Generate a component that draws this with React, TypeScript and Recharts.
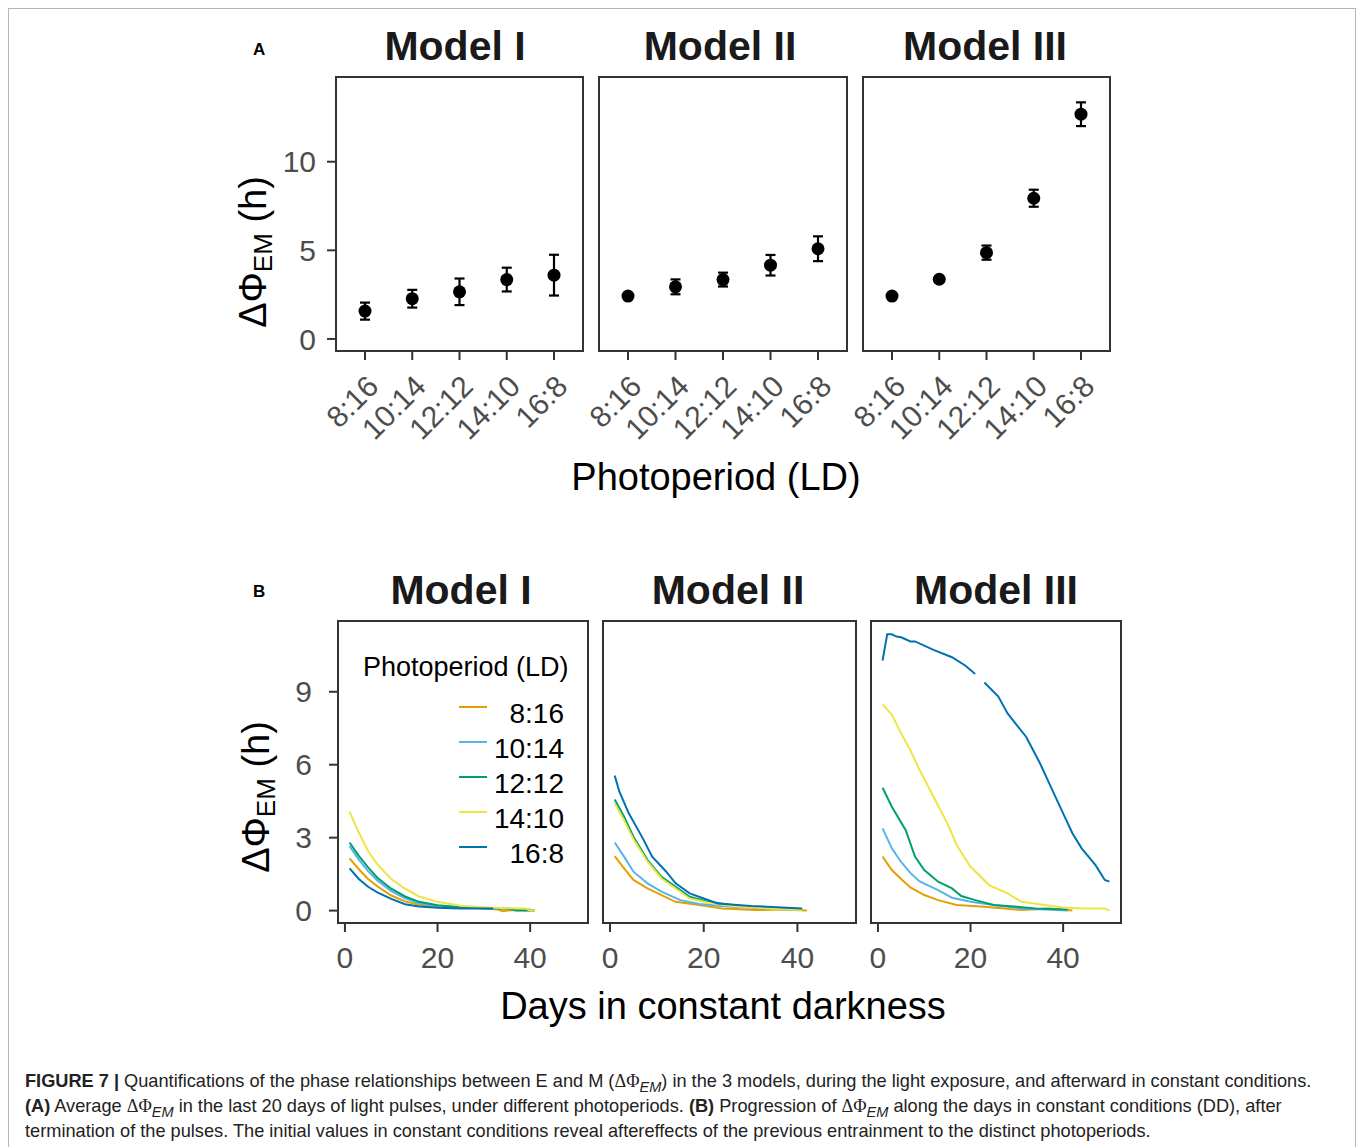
import React from 'react';
import { ComposedChart, Scatter, ErrorBar, LineChart, Line, XAxis, YAxis, Legend } from 'recharts';

const FONT = '"Liberation Sans", Arial, Helvetica, sans-serif';
const TICK_GREY = '#4d4d4d';
const INK = '#333333';

// panel A: mean ΔΦEM in the last 20 days of light pulses (± error)
const photoperiods = ['8:16', '10:14', '12:12', '14:10', '16:8'];
const modelNames = ['Model I', 'Model II', 'Model III'];

const meanModelI = [1.57, 2.27, 2.66, 3.35, 3.6];
const errModelI = [0.48, 0.5, 0.75, 0.67, 1.15];
const meanModelII = [2.42, 2.94, 3.35, 4.16, 5.09];
const errModelII = [0.12, 0.42, 0.39, 0.58, 0.7];
const meanModelIII = [2.42, 3.37, 4.87, 7.94, 12.68];
const errModelIII = [0.12, 0.15, 0.4, 0.48, 0.67];

const aTicks = [0, 5, 10];
const bTicks = [0, 3, 6, 9];
const dayTicks = [0, 20, 40];

// Okabe-Ito colours, one per photoperiod
const lineColors = ['#E69F00', '#56B4E9', '#009E73', '#F0E442', '#0072B2'];

// panel B: [day in DD, ΔΦEM]
const m1_816 = [[1, 2.15], [3, 1.7], [5, 1.3], [7, 1.0], [10, 0.62], [13, 0.38], [16, 0.24], [20, 0.17], [25, 0.13], [30, 0.1], [33, 0.05], [34, -0.03], [36, 0.02], [41, 0]];
const m1_1014 = [[1, 2.65], [3, 2.1], [5, 1.62], [7, 1.24], [10, 0.8], [13, 0.5], [16, 0.3], [20, 0.2], [25, 0.13], [30, 0.1], [35, 0.08], [40, 0.05]];
const m1_1212 = [[1, 2.8], [3, 2.25], [5, 1.78], [7, 1.35], [10, 0.9], [13, 0.58], [16, 0.36], [20, 0.22], [25, 0.14], [30, 0.1], [35, 0.09], [37, 0], [41, 0]];
const m1_1410 = [[1, 4.07], [3, 3.2], [5, 2.45], [7, 1.9], [10, 1.3], [13, 0.9], [16, 0.58], [20, 0.36], [25, 0.2], [30, 0.14], [35, 0.1], [39, 0.09], [40, 0], [41, 0]];
const m1_168 = [[1, 1.74], [3, 1.3], [5, 0.98], [7, 0.75], [10, 0.48], [13, 0.26], [16, 0.17], [20, 0.12], [25, 0.09], [30, 0.09], [32, 0.09]];

const m2_816 = [[1, 2.24], [3, 1.74], [5, 1.26], [8, 0.91], [11, 0.64], [14, 0.36], [19, 0.23], [24, 0.09], [31, 0.02], [37, 0.05], [42, 0]];
const m2_1014 = [[1, 2.8], [3, 2.22], [5, 1.6], [8, 1.12], [11, 0.78], [15, 0.43], [19, 0.27], [26, 0.16], [33, 0.09], [41, 0.02]];
const m2_1212 = [[1, 4.57], [3, 3.86], [5, 3.04], [8, 2.08], [11, 1.39], [14, 0.98], [17, 0.57], [21, 0.36], [26, 0.23], [33, 0.09], [41, 0.05]];
const m2_1410 = [[1, 4.41], [3, 3.72], [5, 2.93], [8, 2.01], [11, 1.32], [14, 0.91], [17, 0.5], [21, 0.32], [26, 0.19], [33, 0.09], [41, 0.02]];
const m2_168 = [[1, 5.55], [2, 4.89], [4, 4.0], [7, 2.97], [9, 2.22], [12, 1.6], [14, 1.12], [17, 0.71], [20, 0.5], [23, 0.29], [30, 0.19], [41, 0.09]];

const m3_816 = [[1, 2.22], [3, 1.67], [5, 1.3], [7, 0.95], [10, 0.64], [13, 0.43], [17, 0.23], [23, 0.16], [31, 0.02], [37, 0.09], [42, 0]];
const m3_1014 = [[1, 3.38], [3, 2.56], [5, 2.0], [7, 1.55], [9, 1.2], [13, 0.84], [16, 0.53], [20, 0.36], [25, 0.23], [31, 0.09], [41, 0]];
const m3_1212 = [[1, 5.05], [3, 4.27], [6, 3.31], [8, 2.22], [10, 1.67], [13, 1.19], [16, 0.91], [18, 0.6], [21, 0.43], [25, 0.23], [30, 0.16], [34, 0.09], [41, 0.05]];
const m3_1410 = [[1, 8.48], [3, 8.05], [5, 7.29], [7, 6.6], [9, 5.78], [12, 4.68], [15, 3.59], [17, 2.7], [20, 1.8], [24, 1.05], [28, 0.71], [31, 0.36], [36, 0.23], [40, 0.13], [44, 0.09], [49, 0.09], [50, 0]];
const m3_168 = [[1, 10.28], [2, 11.36], [3, 11.36], [4, 11.27], [5, 11.24], [7, 11.07], [8, 11.07], [12, 10.72], [16, 10.42], [19, 10.06], [21, 9.73], [22, null], [23, 9.38], [26, 8.8], [28, 8.11], [32, 7.15], [35, 6.06], [37, 5.23], [40, 4.0], [42, 3.18], [44, 2.56], [47, 1.87], [49, 1.26], [50, 1.19]];

const meansA = [meanModelI, meanModelII, meanModelIII];
const errsA = [errModelI, errModelII, errModelIII];
const seriesB = [
  [m1_816, m1_1014, m1_1212, m1_1410, m1_168],
  [m2_816, m2_1014, m2_1212, m2_1410, m2_168],
  [m3_816, m3_1014, m3_1212, m3_1410, m3_168],
];

// layout (page pixels)
const boxesA = [{ x0: 336, x1: 583 }, { x0: 599, x1: 847 }, { x0: 863, x1: 1110 }];
const A_TOP = 77;
const A_BOTTOM = 351;
const boxesB = [{ x0: 338, x1: 588 }, { x0: 603, x1: 856 }, { x0: 871, x1: 1121 }];
const B_TOP = 621;
const B_BOTTOM = 923;
const Y_AXIS_W = 70;
const SIDE = 45; // room for overhanging tick labels when the y axis is hidden

const tickLine = { stroke: INK, strokeWidth: 2 };
const tickText = { fill: TICK_GREY, fontSize: 30, fontFamily: FONT };

const RotatedTick = (props: any) => {
  const { x, y, payload } = props;
  return (
    <text x={x} y={y} dy="0.72em" textAnchor="end" transform={`rotate(-45 ${x} ${y})`}
      fill={TICK_GREY} fontSize={30} fontFamily={FONT}>
      {payload.value}
    </text>
  );
};

const Dot = (props: any) => <circle cx={props.cx} cy={props.cy} r={6.5} fill="#000" />;

const Frame = ({ x0, x1, top, bottom }: { x0: number; x1: number; top: number; bottom: number }) => (
  <div style={{
    position: 'absolute', left: x0 - 1, top: top - 1, width: x1 - x0 + 2, height: bottom - top + 2,
    border: `2px solid ${INK}`, boxSizing: 'border-box', pointerEvents: 'none',
  }} />
);

function PanelA({ idx }: { idx: number }) {
  const box = boxesA[idx];
  const showY = idx === 0;
  const left = box.x0 - (showY ? Y_AXIS_W : SIDE);
  const xh = 110;
  const rows = photoperiods.map((p, i) => ({ period: p, value: meansA[idx][i], err: errsA[idx][i] }));
  return (
    <div style={{ position: 'absolute', left, top: A_TOP }}>
      <ComposedChart width={box.x1 - left} height={A_BOTTOM - A_TOP + xh} data={rows}
        margin={{ top: 0, right: 0, bottom: 0, left: showY ? 0 : SIDE }}>
        <XAxis dataKey="period" type="category" scale="point" padding={{ left: 29, right: 29 }}
          allowDuplicatedCategory={false} interval={0} height={xh} axisLine={false}
          tickSize={9} tickMargin={13} tickLine={tickLine} tick={<RotatedTick />} />
        <YAxis dataKey="value" type="number" domain={[-0.68, 14.78]} ticks={aTicks} allowDataOverflow
          hide={!showY} width={Y_AXIS_W} axisLine={false} tickSize={9} tickMargin={11}
          tickLine={tickLine} tick={tickText} />
        <Scatter dataKey="value" isAnimationActive={false} shape={Dot}>
          <ErrorBar dataKey="err" direction="y" width={5} stroke="#000" strokeWidth={2.2} isAnimationActive={false} />
        </Scatter>
      </ComposedChart>
    </div>
  );
}

const LegendBox = (props: any) => {
  const items = [...(props.payload || [])].sort(
    (a: any, b: any) => photoperiods.indexOf(a.value) - photoperiods.indexOf(b.value));
  return (
    <div style={{ position: 'relative', width: 210, height: 220, fontFamily: FONT, color: '#000' }}>
      <div style={{ position: 'absolute', left: 0, top: 0, fontSize: 27, lineHeight: '27px', whiteSpace: 'nowrap' }}>
        Photoperiod (LD)
      </div>
      {items.map((it: any, i: number) => (
        <div key={it.value} style={{ position: 'absolute', left: 0, top: 45.5 + i * 35, width: 201, height: 28 }}>
          <div style={{ position: 'absolute', left: 96, top: 6.5, width: 28, height: 2, background: it.color }} />
          <div style={{ position: 'absolute', right: 0, top: 0, fontSize: 28, lineHeight: '28px' }}>{it.value}</div>
        </div>
      ))}
    </div>
  );
};

function PanelB({ idx }: { idx: number }) {
  const box = boxesB[idx];
  const showY = idx === 0;
  const left = box.x0 - (showY ? Y_AXIS_W : SIDE);
  const xh = 60;
  return (
    <div style={{ position: 'absolute', left, top: B_TOP }}>
      <LineChart width={box.x1 - left} height={B_BOTTOM - B_TOP + xh}
        margin={{ top: 0, right: 0, bottom: 0, left: showY ? 0 : SIDE }}>
        <XAxis dataKey="day" type="number" domain={[-1.5, 52.5]} ticks={dayTicks} allowDataOverflow
          height={xh} axisLine={false} tickSize={9} tickMargin={15} tickLine={tickLine} tick={tickText} />
        <YAxis type="number" domain={[-0.51, 11.91]} ticks={bTicks} allowDataOverflow hide={!showY}
          width={Y_AXIS_W} axisLine={false} tickSize={9} tickMargin={17} tickLine={tickLine} tick={tickText} />
        {seriesB[idx].map((s, k) => (
          <Line key={photoperiods[k]} name={photoperiods[k]} data={s.map(([d, v]) => ({ day: d, v }))}
            dataKey="v" type="linear" stroke={lineColors[k]} strokeWidth={2} dot={false}
            isAnimationActive={false} />
        ))}
        {showY && (
          <Legend layout="vertical" align="center" verticalAlign="middle" content={<LegendBox />}
            wrapperStyle={{ left: 363 - left, top: 654 - B_TOP, width: 210 }} />
        )}
      </LineChart>
    </div>
  );
}

const DeltaPhi = () => (
  <>
    <span style={{ fontFamily: '"Liberation Serif", "Times New Roman", serif' }}>ΔΦ</span>
    <sub style={{ fontStyle: 'italic', fontSize: '0.8em', lineHeight: 0 }}>EM</sub>
  </>
);

const YTitle = ({ x, y }: { x: number; y: number }) => (
  <text transform={`translate(${x},${y}) rotate(-90)`} textAnchor="middle" fontSize={38} fontFamily={FONT} fill="#000">
    ΔΦ<tspan fontSize={26} dy={6}>EM</tspan><tspan dy={-6}> (h)</tspan>
  </text>
);

export default function App() {
  const titleX_A = [455, 720, 985];
  const titleX_B = [461, 728, 996];
  return (
    <div style={{ position: 'fixed', left: 0, top: 0, width: 1358, height: 1147, background: '#fff', overflow: 'hidden' }}>
      <div style={{ position: 'absolute', left: 8, top: 8, width: 1348, height: 1200, border: '1px solid #b5b5b5', boxSizing: 'border-box' }} />

      {[0, 1, 2].map((i) => <PanelA key={'a' + i} idx={i} />)}
      {[0, 1, 2].map((i) => <PanelB key={'b' + i} idx={i} />)}
      {boxesA.map((b, i) => <Frame key={'fa' + i} x0={b.x0} x1={b.x1} top={A_TOP} bottom={A_BOTTOM} />)}
      {boxesB.map((b, i) => <Frame key={'fb' + i} x0={b.x0} x1={b.x1} top={B_TOP} bottom={B_BOTTOM} />)}

      <svg width={1358} height={1147} style={{ position: 'absolute', left: 0, top: 0, pointerEvents: 'none' }}>
        <text x={253} y={55} fontSize={17} fontWeight="bold" fontFamily={FONT} fill="#000">A</text>
        <text x={253} y={597} fontSize={17} fontWeight="bold" fontFamily={FONT} fill="#000">B</text>
        {modelNames.map((m, i) => (
          <text key={'ta' + i} x={titleX_A[i]} y={60} textAnchor="middle" fontSize={41} fontWeight="bold" fontFamily={FONT} fill="#1a1a1a">{m}</text>
        ))}
        {modelNames.map((m, i) => (
          <text key={'tb' + i} x={titleX_B[i]} y={604} textAnchor="middle" fontSize={41} fontWeight="bold" fontFamily={FONT} fill="#1a1a1a">{m}</text>
        ))}
        <YTitle x={266} y={252} />
        <YTitle x={269} y={797} />
        <text x={716} y={490} textAnchor="middle" fontSize={38} fontFamily={FONT} fill="#000">Photoperiod (LD)</text>
        <text x={723} y={1019} textAnchor="middle" fontSize={38} fontFamily={FONT} fill="#000">Days in constant darkness</text>
      </svg>

      <div style={{ position: 'absolute', left: 25, top: 1068.5, fontSize: 18.2, lineHeight: '25px', fontFamily: FONT, color: '#222', whiteSpace: 'nowrap' }}>
        <div><b>FIGURE 7 |</b> Quantifications of the phase relationships between E and M (<DeltaPhi />) in the 3 models, during the light exposure, and afterward in constant conditions.</div>
        <div><b>(A)</b> Average <DeltaPhi /> in the last 20 days of light pulses, under different photoperiods. <b>(B)</b> Progression of <DeltaPhi /> along the days in constant conditions (DD), after</div>
        <div>termination of the pulses. The initial values in constant conditions reveal aftereffects of the previous entrainment to the distinct photoperiods.</div>
      </div>
    </div>
  );
}
